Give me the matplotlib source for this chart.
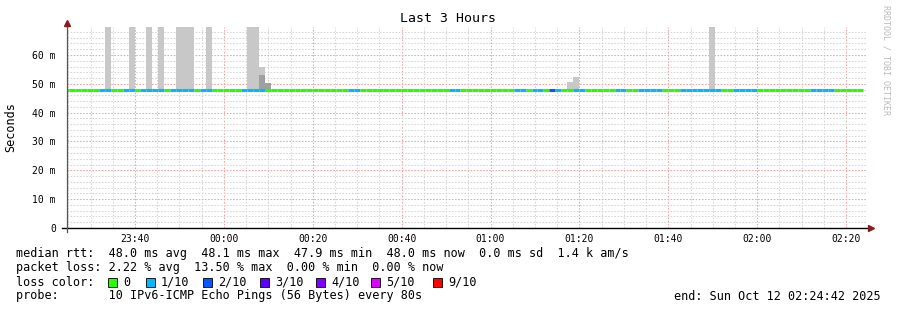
import matplotlib
matplotlib.use('Agg')
import matplotlib.pyplot as plt
from matplotlib.lines import Line2D
from matplotlib.patches import Rectangle
from matplotlib.ticker import MultipleLocator, FuncFormatter

W, H = 897, 310
MONO = 'DejaVu Sans Mono'

# time axis: minutes relative to 00:00, graph spans 23:24:42 .. 02:24:42
t_start = -35.3
t_end = 144.7
first_step = -36.11      # start of the first 80 s rrd step
step_len = 80 / 60

# packet loss per step, run-length coded: (lost pings out of 10, number of steps)
loss_runs = [(0, 6), (1, 2), (0, 2), (1, 2), (0, 1), (1, 4), (0, 1), (1, 4), (0, 1), (1, 2),
             (0, 5), (1, 4), (0, 14), (1, 2), (0, 15), (1, 2), (0, 9), (1, 2), (0, 1), (1, 2),
             (0, 1), (2, 1), (1, 1), (0, 2), (1, 2), (0, 5), (1, 2), (0, 2), (1, 4), (0, 3),
             (1, 7), (0, 2), (1, 4), (0, 9), (1, 4), (0, 5)]

# median rtt per step (ms)
median = [
    47.9, 47.9, 48.0, 48.0, 48.0, 48.0, 48.0, 48.0, 48.0, 48.0, 47.9, 48.0, 48.0, 48.0, 48.0,
    48.0, 48.0, 48.0, 48.0, 48.0, 48.0, 48.0, 48.0, 48.0, 48.0, 48.0, 48.0, 48.0, 48.0, 48.0,
    47.9, 48.0, 48.0, 48.0, 48.0, 48.0, 48.0, 48.0, 48.0, 48.0, 48.0, 48.0, 48.0, 48.0, 48.0,
    48.0, 48.0, 48.0, 48.0, 48.0, 48.0, 47.9, 48.0, 48.0, 48.0, 48.0, 48.0, 48.0, 48.0, 48.0,
    48.0, 48.0, 48.0, 48.0, 48.0, 48.0, 48.0, 47.9, 48.0, 48.0, 48.0, 48.0, 48.0, 48.0, 48.0,
    48.0, 48.0, 48.0, 48.0, 47.9, 48.0, 48.0, 48.0, 48.0, 48.0, 48.0, 48.0, 48.0, 48.0, 48.0,
    48.0, 48.0, 48.0, 48.0, 48.0, 48.0, 48.0, 48.0, 48.0, 48.0, 48.0, 48.0, 48.0, 48.0, 48.0,
    48.0, 48.0, 48.0, 48.0, 48.0, 48.0, 48.0, 48.0, 48.0, 48.0, 48.0, 48.0, 48.0, 48.0, 48.0,
    48.0, 48.0, 48.0, 48.0, 48.0, 48.0, 48.0, 48.0, 48.0, 48.0, 48.0, 48.0, 48.0, 48.0, 48.0,
]

# smoke (spread of the 10 pings) for the steps where it shows
smoke_steps = [7, 11, 14, 16, 19, 20, 21, 24, 31, 32, 33, 34, 85, 86, 109]
smoke_max = [95, 95, 95, 95, 95, 95, 95, 95, 95, 95, 55.9, 48.0, 50.7, 52.2, 95]
smoke_mid = [48.2, 48.2, 48.2, 48.2, 48.2, 48.2, 48.2, 48.2, 48.2, 48.2, 52.9, 50.4, 48.0, 48.0, 48.2]

loss_levels = ['0', '1/10', '2/10', '3/10', '4/10', '5/10', '9/10']
loss_colors = ['#26ff00', '#00b8ff', '#0059ff', '#5e00ff', '#7e00ff', '#dd00ff', '#ff0000']
level_index = {0: 0, 1: 1, 2: 2, 3: 3, 4: 4, 5: 5, 9: 6}

title = 'Last 3 Hours'
stats = ['median rtt:  48.0 ms avg  48.1 ms max  47.9 ms min  48.0 ms now  0.0 ms sd  1.4 k am/s',
         'packet loss: 2.22 % avg  13.50 % max  0.00 % min  0.00 % now']
probe = 'probe:       10 IPv6-ICMP Echo Pings (56 Bytes) every 80s'
end_text = 'end: Sun Oct 12 02:24:42 2025'


def fx(px):
    return px / W


def fy(py):
    return 1 - py / H


fig = plt.figure(figsize=(W / 100, H / 100), dpi=100)
ax_left, ax_right, ax_top, ax_bottom = 67, 867, 27, 228
ax = fig.add_axes([fx(ax_left), fy(ax_bottom), (ax_right - ax_left) / W, (ax_bottom - ax_top) / H])
ax.set_xlim(t_start, t_end)
ax.set_ylim(0, 69.7)

# step edges
loss = []
for lvl, n in loss_runs:
    loss += [lvl] * n
lefts = [first_step + i * step_len for i in range(len(median))]

# smoke, light outer layer then darker inner layer
for i, top, mid in zip(smoke_steps, smoke_max, smoke_mid):
    ax.bar(lefts[i], top - median[i], width=step_len, bottom=median[i], align='edge',
           color='#c8c8c8', linewidth=0, zorder=2)
    if mid > median[i] + 0.3:
        ax.bar(lefts[i], mid - median[i], width=step_len, bottom=median[i], align='edge',
               color='#a0a0a0', linewidth=0, zorder=3)

# median line coloured by loss
cols = [loss_colors[level_index[l]] for l in loss]
ax.hlines(median, lefts, [l + step_len for l in lefts], colors=cols, linewidth=2.2,
          capstyle='butt', zorder=4)

# grid
ax.xaxis.set_major_locator(MultipleLocator(20))
ax.xaxis.set_minor_locator(MultipleLocator(5))
ax.yaxis.set_major_locator(MultipleLocator(10))
ax.yaxis.set_minor_locator(MultipleLocator(2))
ax.xaxis.set_major_formatter(FuncFormatter(
    lambda v, p: '%02d:%02d' % (int(round(v)) % 1440 // 60, int(round(v)) % 60)))
ax.yaxis.set_major_formatter(FuncFormatter(lambda v, p: '0' if v == 0 else '%d m' % v))
ax.grid(which='minor', color='#d6d6d6', linestyle=(0, (1.5, 1.5)), linewidth=0.75, zorder=0)
ax.grid(which='major', color='#f3a3a3', linestyle=(0, (1.5, 1.5)), linewidth=0.75, zorder=0)
ax.set_axisbelow(True)
ax.tick_params(which='both', length=0)
ax.tick_params(axis='x', pad=4, labelsize=7)
ax.tick_params(axis='y', pad=8, labelsize=7)
for lab in ax.get_xticklabels() + ax.get_yticklabels():
    lab.set_family(MONO)
for s in ax.spines.values():
    s.set_visible(False)

# axes with arrows
fig.add_artist(Line2D([fx(62), fx(869)], [fy(228), fy(228)], color='black', lw=1.0))
fig.add_artist(Line2D([fx(67), fx(67)], [fy(232), fy(24)], color='#555555', lw=0.9))
fig.add_artist(Line2D([fx(871)], [fy(228)], marker='>', ms=5, color='#8b1a1a', mec='#8b1a1a'))
fig.add_artist(Line2D([fx(67)], [fy(23)], marker='^', ms=5, color='#8b1a1a', mec='#8b1a1a'))

# texts
fig.text(fx(448), fy(19), title, family=MONO, fontsize=9.5, ha='center', va='center')
fig.text(fx(11), fy(127), 'Seconds', family=MONO, fontsize=8.5, rotation=90,
         ha='center', va='center')
fig.text(fx(886), fy(5), 'RRDTOOL / TOBI OETIKER', family=MONO, fontsize=6, rotation=270,
         ha='center', va='top', color='#bbbbbb')

row_y = [254, 268, 282, 296]
for txt, y in zip(stats, row_y[:2]):
    fig.text(fx(16), fy(y), txt, family=MONO, fontsize=8.5, va='center')
fig.text(fx(16), fy(row_y[2]), 'loss color:', family=MONO, fontsize=8.5, va='center')
sq_x = [108, 146, 203, 260, 316, 371, 433]
for x, lab, c in zip(sq_x, loss_levels, loss_colors):
    fig.add_artist(Rectangle((fx(x), fy(row_y[2] + 4.5)), 9 / W, 9 / H, facecolor=c,
                             edgecolor='black', linewidth=0.6))
    fig.text(fx(x + 15), fy(row_y[2]), lab, family=MONO, fontsize=8.5, va='center')
fig.text(fx(16), fy(row_y[3]), probe, family=MONO, fontsize=8.5, va='center')
fig.text(fx(881), fy(row_y[3]), end_text, family=MONO, fontsize=8.5, va='center', ha='right')

fig.savefig('out.png', dpi=100)
